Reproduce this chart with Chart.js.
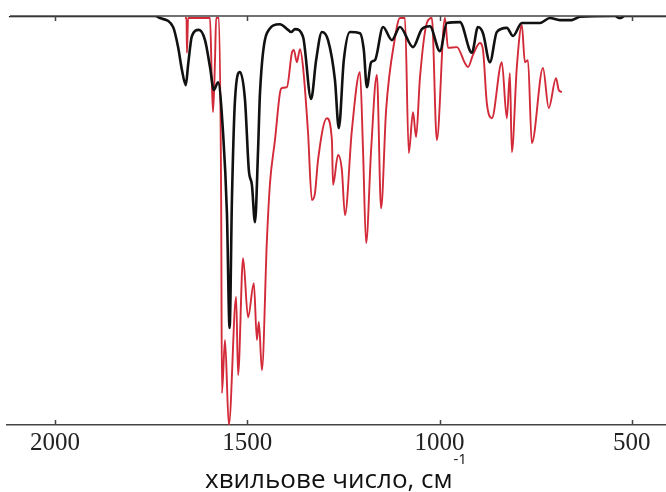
<!DOCTYPE html>
<html>
<head>
<meta charset="utf-8">
<script src="https://cdn.jsdelivr.net/npm/chart.js@4.4.0/dist/chart.umd.min.js"></script>
<style>
  html, body { margin: 0; padding: 0; background: #fff; }
</style>
</head>
<body>
<canvas id="spectrum" width="666" height="492"></canvas>
<script>
// black spectrum: wavenumber (cm-1) / transmittance (%)
const blackWave = [2120, 1740, 1727, 1693, 1680, 1670, 1660, 1654, 1644, 1626, 1610, 1597, 1587, 1576, 1563, 1553, 1546, 1540, 1532, 1519,
    1506, 1496, 1488, 1480, 1472, 1467, 1449, 1415, 1394, 1386, 1376, 1355, 1334, 1321, 1306, 1290, 1272, 1262, 1249, 1233,
    1207, 1197, 1189, 1178, 1168, 1147, 1124, 1103, 1069, 1046, 1025, 999, 981, 947, 916, 900, 887, 869, 851, 825,
    809, 786, 739, 713, 687, 656, 635, 544, 531, 518, 411];
const blackT = [100, 100, 99.5, 97.3, 92.4, 86.8, 83.1, 88, 95.1, 96.6, 94.1, 87.5, 81.9, 83.8, 71.4, 51.8, 23.7, 55, 79.5, 86.3,
    79.5, 62.3, 58.7, 49.6, 67.2, 81.2, 95.8, 98, 96.6, 96.1, 96.8, 94.9, 79.7, 89.2, 96.1, 94.1, 84.3, 72.6, 89.2, 96.1,
    95.8, 91.7, 82.6, 88.7, 89.2, 97.3, 94.1, 97.3, 92.4, 96.8, 97.5, 91.4, 98.3, 98.5, 91, 97.3, 95.8, 88.7, 96.1, 97.1,
    95.1, 98.3, 98.3, 99.5, 99, 99, 99.8, 100, 99.5, 100, 100];

// red spectrum
const redWave = [1662, 1658, 1657, 1654, 1597, 1592, 1589, 1584, 1581, 1574, 1568, 1566, 1558, 1548, 1529, 1524, 1511, 1498, 1483, 1475,
    1470, 1462, 1449, 1441, 1428, 1415, 1410, 1397, 1384, 1379, 1371, 1363, 1355, 1342, 1332, 1324, 1316, 1293, 1280, 1277,
    1264, 1254, 1246, 1228, 1207, 1199, 1191, 1178, 1163, 1152, 1139, 1116, 1103, 1090, 1080, 1069, 1061, 1051, 1033, 1020,
    1007, 986, 978, 955, 934, 926, 913, 895, 887, 877, 864, 838, 825, 817, 812, 799, 786, 778, 770, 760,
    731, 716, 697, 690, 682];
const redT = [99.5, 99.5, 91, 99.5, 99.5, 83.1, 76.5, 89.2, 99.5, 99.5, 55, 7.8, 20.8, 0, 31.3, 12.2, 40.8, 26.3, 34.7, 20.8,
    25.2, 13.4, 45.2, 59.1, 69.7, 81.2, 82.4, 82.6, 91, 91.7, 88.7, 91.9, 87.5, 71.4, 55, 56.7, 64.8, 75, 69.7, 58.7,
    66, 62.3, 51.3, 72.1, 86.3, 67.2, 44.5, 67.2, 85.6, 53, 77, 94.6, 99.5, 99.5, 66.5, 76.5, 70.4, 84.8, 98.3, 99.5,
    69.7, 99.5, 92.2, 92.4, 88.5, 87.5, 90.5, 93.4, 91.7, 78.7, 75, 88.7, 75, 86, 66.7, 87.5, 97.8, 88.7, 89.2, 68.9,
    87.3, 77.5, 84.8, 81.9, 81.4];

const tickValues = [2000, 1500, 1000, 500];
const axisTitle = 'хвильове число, см';
const axisTitleSup = '-1';

const toPoints = (xs, ys) => xs.map((x, i) => ({ x: x, y: ys[i] }));

// top frame line, inward tick marks and the axis caption with superscript
const frame = {
    id: 'frame',
    afterDraw(chart) {
        const ctx = chart.ctx;
        const area = chart.chartArea;
        const xs = chart.scales.x;
        ctx.save();
        ctx.strokeStyle = '#444';
        ctx.lineWidth = 1.5;
        ctx.beginPath();
        ctx.moveTo(area.left + 3, area.top);
        ctx.lineTo(area.right, area.top);
        for (const v of tickValues) {
            const px = Math.round(xs.getPixelForValue(v)) + 0.5;
            ctx.moveTo(px, area.bottom);
            ctx.lineTo(px, area.bottom - 5);
            ctx.moveTo(px, area.top);
            ctx.lineTo(px, area.top + 5);
        }
        ctx.stroke();

        ctx.fillStyle = '#111';
        ctx.textBaseline = 'alphabetic';
        ctx.font = '26px "Open Sans"';
        const w1 = ctx.measureText(axisTitle).width;
        ctx.font = '15px "Open Sans"';
        const w2 = ctx.measureText(axisTitleSup).width;
        const startX = 336 - (w1 + w2 + 1) / 2;
        ctx.font = '26px "Open Sans"';
        ctx.fillText(axisTitle, startX, 488);
        ctx.font = '15px "Open Sans"';
        ctx.fillText(axisTitleSup, startX + w1 + 1, 464);
        ctx.restore();
    }
};

new Chart(document.getElementById('spectrum'), {
    type: 'line',
    data: {
        datasets: [{
            label: 'black',
            data: toPoints(blackWave, blackT),
            borderColor: '#111',
            borderWidth: 2.6,
            pointRadius: 0,
            cubicInterpolationMode: 'monotone',
            order: 0
        }, {
            label: 'red',
            data: toPoints(redWave, redT),
            borderColor: 'rgb(210, 42, 56)',
            borderWidth: 1.9,
            pointRadius: 0,
            cubicInterpolationMode: 'monotone',
            order: 1
        }]
    },
    options: {
        responsive: false,
        animation: false,
        devicePixelRatio: 1,
        layout: {
            padding: { left: 7, right: 0, top: 16, bottom: 31 }
        },
        plugins: {
            legend: { display: false },
            tooltip: { enabled: false }
        },
        scales: {
            x: {
                type: 'linear',
                reverse: true,
                min: 411,
                max: 2125,
                afterBuildTicks: (scale) => {
                    scale.ticks = tickValues.map(v => ({ value: v }));
                },
                grid: { display: false, drawTicks: false },
                border: { display: true, color: '#444', width: 1.5 },
                ticks: {
                    padding: 3,
                    color: '#222',
                    font: { family: '"Liberation Serif"', size: 25 },
                    callback: (v) => String(v)
                }
            },
            y: {
                display: false,
                min: 0,
                max: 100
            }
        }
    },
    plugins: [frame]
});
</script>
</body>
</html>
